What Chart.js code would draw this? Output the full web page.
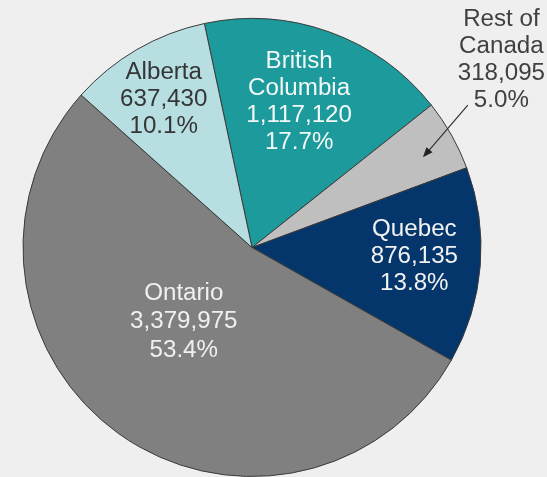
<!DOCTYPE html>
<html>
<head>
<meta charset="utf-8">
<script src="https://cdn.jsdelivr.net/npm/chart.js@4.4.1/dist/chart.umd.min.js"></script>
<style>
body{margin:0;background:#efefef;overflow:hidden}
#wrap{width:547px;height:477px}
</style>
</head>
<body>
<div id="wrap"><canvas id="pieChart" width="547" height="477"></canvas></div>
<script>
// data, in drawing order (clockwise from British Columbia)
const provinces = ["British Columbia","Rest of Canada","Quebec","Ontario","Alberta"]
const nameLines = [["British","Columbia"],["Rest of","Canada"],["Quebec"],["Ontario"],["Alberta"]]
const population = [1117120,318095,876135,3379975,637430]

const sliceColors = ["#1d9a9b","#bfbfbf","#05366b","#808080","#b7dee1"]
const textColors = ["#f2f8f8","#404040","#f2f2f2","#f0f0f0","#353535"]

// label placement: fraction of radius, angle shift in degrees from slice middle
const labelFrac = [0.667,1.362,0.71,0.44,0.752]
const labelShift = [-1.8,-7.5,-1.4,7,-0.7]

const total = population.reduce(function(a,b){return a+b},0)

const ctx = document.getElementById("pieChart")

const labelPlugin = {
id:"sliceLabels",
afterDatasetsDraw(chart){
let c = chart.ctx
let arcs = chart.getDatasetMeta(0).data
c.save()
c.font = "23px 'Liberation Sans', Arial, sans-serif"
c.textAlign = "center"
c.textBaseline = "middle"
for(let i=0;i<arcs.length;i++){
let a = arcs[i]
let mid = (a.startAngle + a.endAngle)/2 + labelShift[i]*Math.PI/180
let r = a.outerRadius*labelFrac[i]
let x = a.x + Math.cos(mid)*r
let y = a.y + Math.sin(mid)*r
let lines = nameLines[i].slice()
lines.push(population[i].toLocaleString("en-US"))
lines.push((population[i]/total*100).toFixed(1) + "%")
let lh = i==3 ? 28.5 : 27
let top = y - (lines.length-1)*lh/2
c.fillStyle = textColors[i]
for(let j=0;j<lines.length;j++){
c.save()
c.translate(x, top + j*lh)
c.scale(1.05,1)
c.fillText(lines[j],0,0)
c.restore()
}
// callout arrow for the small slice
if(labelFrac[i] > 1){
let m0 = (a.startAngle + a.endAngle)/2
let sa = m0 - 4*Math.PI/180
let ta = m0 + 1.6*Math.PI/180
let sx = a.x + Math.cos(sa)*a.outerRadius*1.129
let sy = a.y + Math.sin(sa)*a.outerRadius*1.129
let tx = a.x + Math.cos(ta)*a.outerRadius*0.844
let ty = a.y + Math.sin(ta)*a.outerRadius*0.844
let ang = Math.atan2(ty-sy,tx-sx)
c.strokeStyle = "#333"
c.fillStyle = "#222"
c.lineWidth = 1.2
c.beginPath()
c.moveTo(sx,sy)
c.lineTo(tx - Math.cos(ang)*6, ty - Math.sin(ang)*6)
c.stroke()
c.beginPath()
c.moveTo(tx,ty)
c.lineTo(tx - Math.cos(ang)*10 + Math.sin(ang)*4, ty - Math.sin(ang)*10 - Math.cos(ang)*4)
c.lineTo(tx - Math.cos(ang)*10 - Math.sin(ang)*4, ty - Math.sin(ang)*10 + Math.cos(ang)*4)
c.closePath()
c.fill()
}
}
c.restore()
}
}

const chart = new Chart(ctx,{
type:"pie",
data:{
labels:provinces,
datasets:[{
data:population,
backgroundColor:sliceColors,
borderColor:"#3a3a3a",
borderWidth:1
}]
},
options:{
responsive:false,
animation:false,
rotation:-12,
layout:{padding:{top:18,bottom:0,left:0,right:43}},
plugins:{
legend:{display:false},
tooltip:{enabled:false}
}
},
plugins:[labelPlugin]
})
</script>
</body>
</html>
